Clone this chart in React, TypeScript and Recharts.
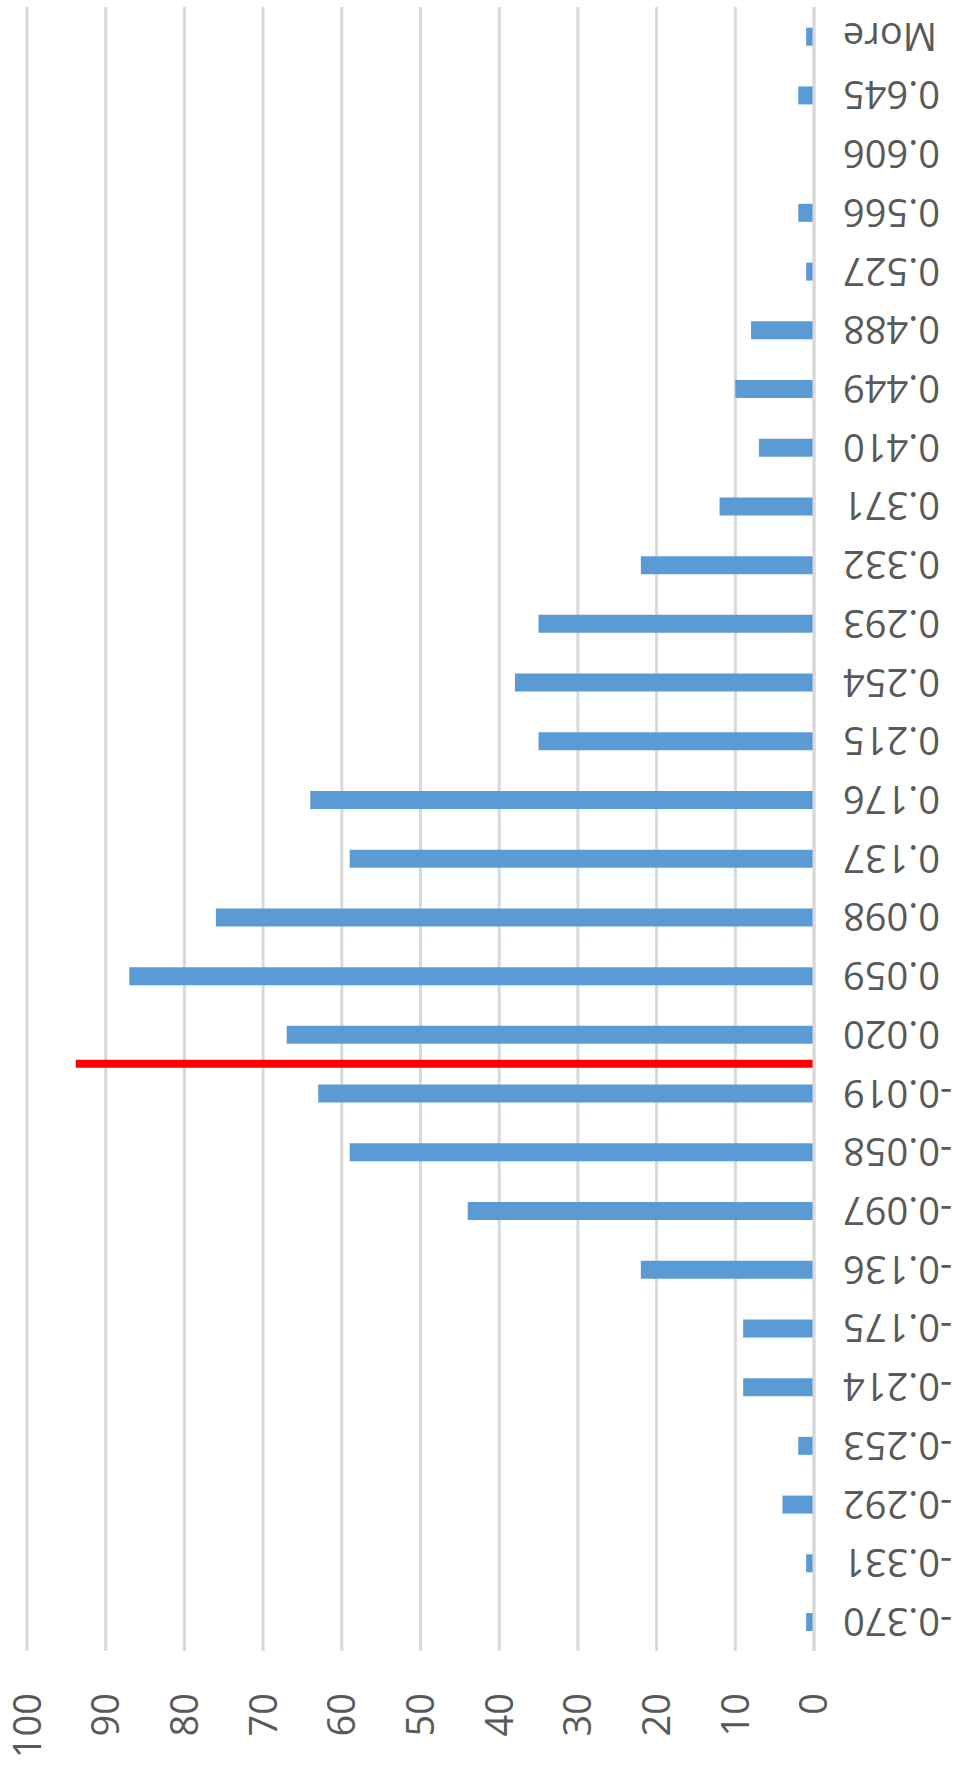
import React from 'react';
import { BarChart, Bar, XAxis, YAxis, CartesianGrid, ReferenceLine } from 'recharts';

// histogram bins (upper bound labels) and counts
const bins = [
  '-0.370', '-0.331', '-0.292', '-0.253', '-0.214', '-0.175', '-0.136', '-0.097', '-0.058', '-0.019',
  '0.020', '0.059', '0.098', '0.137', '0.176', '0.215', '0.254', '0.293', '0.332', '0.371',
  '0.410', '0.449', '0.488', '0.527', '0.566', '0.606', '0.645', 'More',
];
const counts = [
  1, 1, 4, 2, 9, 9, 22, 44, 59, 63,
  67, 87, 76, 59, 64, 35, 38, 35, 22, 12,
  7, 10, 8, 1, 2, 0, 2, 1,
];
const valueTicks = [0, 10, 20, 30, 40, 50, 60, 70, 80, 90, 100];

// red marker between -0.019 and 0.020
const markerBin = '0.020';
const markerHeight = 93.8;

const W = 1771;
const H = 960;
const FONT = '"Open Sans", sans-serif';
const TEXT = '#595959';
const GRID = '#d9d9d9';

const data = bins.map((bin, i) => ({ bin, count: counts[i] }));

// category labels are turned so they read upwards in the unrotated chart
const BinTick = (props: any) => {
  const { x, y, payload } = props;
  return (
    <text
      x={x}
      y={y}
      dy="0.36em"
      transform={`rotate(-90 ${x} ${y})`}
      textAnchor="end"
      fill={TEXT}
      fontSize={38}
      fontFamily={FONT}
    >
      {payload.value}
    </text>
  );
};

const App: React.FC = () => {
  return (
    <div style={{ position: 'absolute', left: 0, top: 0, width: H, height: W, overflow: 'hidden', background: '#fff' }}>
      {/* the whole chart is drawn as columns, then turned a quarter turn anticlockwise */}
      <div
        style={{
          position: 'absolute',
          left: 0,
          top: 0,
          width: W,
          height: H,
          transformOrigin: '0 0',
          transform: `translate(0px, ${W}px) rotate(-90deg)`,
        }}
      >
        <BarChart width={W} height={H} data={data} margin={{ top: 27, right: 7, bottom: 0, left: 0 }} barCategoryGap={0}>
          <CartesianGrid vertical={false} stroke={GRID} strokeWidth={3} />
          <XAxis
            dataKey="bin"
            interval={0}
            height={146}
            tickLine={false}
            tickSize={0}
            tickMargin={29}
            axisLine={{ stroke: GRID, strokeWidth: 3 }}
            tick={<BinTick />}
          />
          <YAxis
            domain={[0, 100]}
            ticks={valueTicks}
            width={120}
            axisLine={false}
            tickLine={false}
            tickSize={0}
            tickMargin={42}
            tick={{ fill: TEXT, fontSize: 38, fontFamily: FONT }}
          />
          <Bar dataKey="count" fill="#5b9bd5" barSize={18} isAnimationActive={false} />
          <ReferenceLine
            segment={[{ x: markerBin, y: 0 }, { x: markerBin, y: markerHeight }]}
            position="start"
            stroke="#ff0000"
            strokeWidth={8}
          />
        </BarChart>
      </div>
    </div>
  );
};

export default App;
